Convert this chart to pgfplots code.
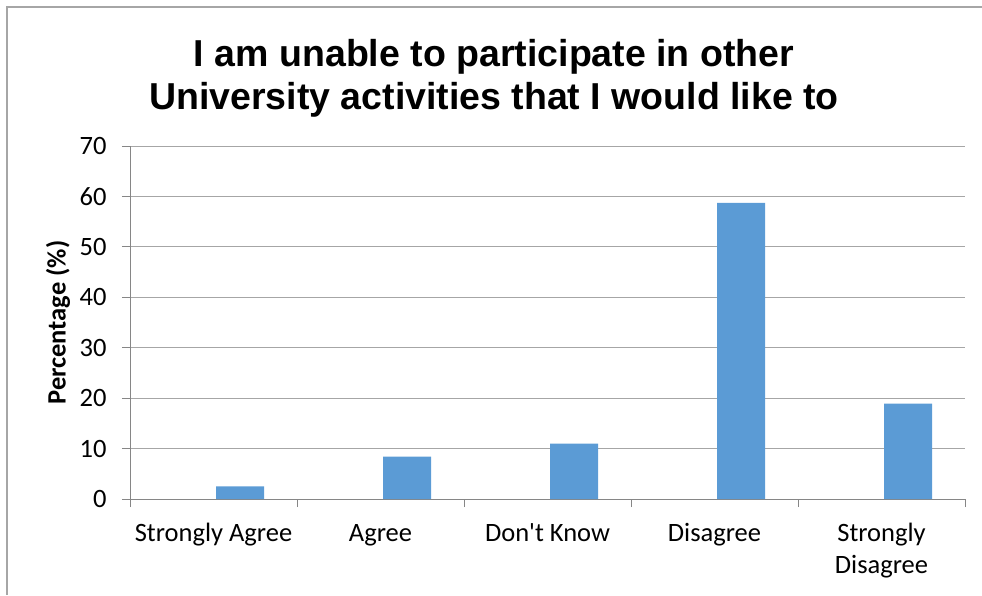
\documentclass[border=0pt]{standalone}
\usepackage{fontspec}
\setmainfont{Carlito}
\newfontfamily\arialfont{Liberation Sans}
\usepackage{pgfplots}
\pgfplotsset{compat=1.18}
\definecolor{barblue}{HTML}{5B9BD5}
\definecolor{gridgray}{HTML}{A6A6A6}
\definecolor{axisgray}{HTML}{868686}
\begin{document}
\begin{tikzpicture}[x=1pt,y=1pt]
\path[use as bounding box] (0,0) rectangle (982,-595);
\draw[gridgray, line width=1.2pt] (7,-595) -- (7,-7) -- (982,-7);
\node[align=center, font=\arialfont\bfseries\fontsize{37.5}{43}\selectfont] at (494,-78) {I am unable to participate in other\\University activities that I would like to};
\begin{axis}[
  at={(130pt,-499pt)}, anchor=south west,
  scale only axis, width=835pt, height=353pt,
  xmin=0, xmax=5, ymin=0, ymax=70,
  axis x line*=bottom, axis y line*=left,
  axis line style={axisgray, line width=1pt},
  ytick={0,10,...,70},
  ymajorgrids, grid style={gridgray, line width=1pt},
  xtick={0.5,1.5,2.5,3.5,4.5},
  xticklabels={{\strut Strongly Agree}, {\strut Agree}, {\strut Don\textquotesingle t Know}, {\strut Disagree}, {\strut Strongly\\\strut Disagree}},
  minor xtick={0,1,2,3,4,5},
  tick align=outside,
  major tick length=8pt, minor tick length=8pt,
  major x tick style={draw=none},
  minor x tick style={axisgray, line width=1pt},
  major y tick style={axisgray, line width=1pt},
  /pgf/number format/assume math mode=true,
  ticklabel style={font=\fontsize{26.5}{32}\selectfont},
  xticklabel style={align=center, anchor=north, yshift=-9pt},
  yticklabel style={xshift=-12pt},
  ylabel={Percentage (\%)},
  every axis y label/.style={at={(axis description cs:-0.0862,0.5)}, rotate=90, anchor=center, font=\bfseries\fontsize{26.5}{30}\selectfont},
]
\addplot[ybar, bar width=48pt, bar shift=26.5pt, fill=barblue, draw=none]
  coordinates {(0.5,2.5) (1.5,8.4) (2.5,11.0) (3.5,58.7) (4.5,18.9)};
\end{axis}
\end{tikzpicture}
\end{document}
